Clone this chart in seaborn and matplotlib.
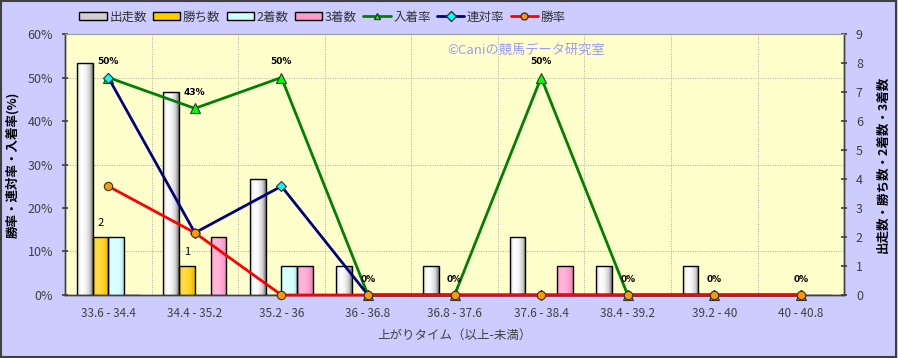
import numpy as np
import pandas as pd
import matplotlib
matplotlib.use("Agg")
import matplotlib.pyplot as plt
import seaborn as sns
from matplotlib.colors import to_rgb
from matplotlib.patches import Patch, Rectangle
from matplotlib.lines import Line2D

# ---------------- data ----------------
categories = ["33.6 - 34.4", "34.4 - 35.2", "35.2 - 36", "36 - 36.8", "36.8 - 37.6",
              "37.6 - 38.4", "38.4 - 39.2", "39.2 - 40", "40 - 40.8"]
starts = [8, 7, 4, 1, 1, 2, 1, 1, 0]
wins = [2, 1, 0, 0, 0, 0, 0, 0, 0]
seconds = [2, 0, 1, 0, 0, 0, 0, 0, 0]
thirds = [0, 2, 1, 0, 0, 1, 0, 0, 0]
place_rate = [50, 42.9, 50, 0, 0, 50, 0, 0, 0]
quinella_rate = [50, 14.3, 25, 0, 0, 0, 0, 0, 0]
win_rate = [25, 14.3, 0, 0, 0, 0, 0, 0, 0]

bar_names = ["出走数", "勝ち数", "2着数", "3着数"]
bar_colors = ["#D0D0D0", "#FFCC00", "#CCFFFF", "#FF99CC"]
line_names = ["入着率", "連対率", "勝率"]

sns.set_theme(style="white")
plt.rcParams["font.family"] = ["Noto Sans CJK JP", "DejaVu Sans"]

fig = plt.figure(figsize=(8.98, 3.58), dpi=100, facecolor="#CCCCFF")
fig.add_artist(Rectangle((0.001, 0.002), 0.997, 0.995, transform=fig.transFigure,
                         fill=False, edgecolor="#404040", linewidth=1.5))

ax = fig.add_axes([0.0724, 0.176, 0.8676, 0.729])
ax.set_facecolor("#FFFFCC")
ax2 = ax.twinx()

# ---------------- bars (right scale) ----------------
bdf = pd.DataFrame({
    "cat": np.tile(categories, 4),
    "series": np.repeat(bar_names, len(categories)),
    "value": starts + wins + seconds + thirds,
})
sns.barplot(data=bdf, x="cat", y="value", hue="series", hue_order=bar_names,
            palette=bar_colors, width=0.73, dodge=True, ax=ax,
            edgecolor="black", linewidth=1.0, legend=False, saturation=1, zorder=3)

def shade_patch(axis, patch, color, strength):
    x, y = patch.get_x(), patch.get_y()
    w, h = patch.get_width(), patch.get_height()
    if h <= 0:
        return
    rgb = np.array(to_rgb(color))
    t = np.linspace(0, 1, 64)
    prof = np.interp(t, [0, 0.12, 0.3, 0.55, 0.8, 1],
                     [-0.25, 0.6, 1.0, 0.75, 0.0, -0.45]) * strength
    img = np.empty((1, 64, 3))
    for i, p in enumerate(prof):
        if p >= 0:
            img[0, i] = rgb + (1 - rgb) * p
        else:
            img[0, i] = rgb * (1 + p)
    axis.imshow(img, extent=[x, x + w, y, y + h], aspect="auto", zorder=3.5,
                interpolation="bilinear")
    patch.set_facecolor("none")
    patch.set_zorder(4)

strengths = [1.0, 0.3, 0.3, 0.3]
n = len(categories)
for k, cont in enumerate(ax.containers):
    for p in cont.patches:
        shade_patch(ax, p, bar_colors[k], strengths[k])

# win count labels
for p, v in zip(ax.containers[1].patches, wins):
    if v > 0:
        ax.text(p.get_x() + p.get_width() / 2, v + 0.3, str(v), ha="center", va="bottom",
                fontsize=8, color="black", zorder=6)

ax.set_xlim(-0.5, n - 0.5)
ax.set_ylim(0, 9)
ax.set_yticks(range(10))
ax.set_yticks([1.5, 3, 4.5, 6, 7.5], minor=True)
ax.set_xticks(np.arange(0.5, n - 0.5, 1), minor=True)
ax.grid(which="minor", color="#A8A8A8", linestyle=(0, (1, 1.5)), linewidth=0.7, zorder=0)
ax.set_axisbelow(True)
ax.yaxis.tick_right()
ax.yaxis.set_label_position("right")
ax.tick_params(axis="y", which="major", direction="inout", length=5, color="#404040",
               labelsize=9, labelcolor="#404040", pad=6)
ax.tick_params(which="minor", length=0)
ax.tick_params(axis="x", which="major", length=0, labelsize=8.5, labelcolor="#404040", pad=9)
ax.set_xlabel("上がりタイム（以上-未満）", fontsize=9, color="#404040", labelpad=6)
ax.set_ylabel("出走数・勝ち数・2着数・3着数", fontsize=9, fontweight="bold",
              color="black", labelpad=10)

# ---------------- lines (left scale) ----------------
ldf = pd.DataFrame({"cat": categories, "入着率": place_rate,
                    "連対率": quinella_rate, "勝率": win_rate})
styles = {
    "入着率": dict(color="#008000", marker="^", markerfacecolor="#00FF00"),
    "連対率": dict(color="#000080", marker="D", markerfacecolor="#00FFFF"),
    "勝率": dict(color="#FF0000", marker="o", markerfacecolor="#FF9900"),
}
msize = {"入着率": 7, "連対率": 5, "勝率": 6}
for name in line_names:
    st = styles[name]
    sns.pointplot(data=ldf, x="cat", y=name, ax=ax2, color=st["color"],
                  markers=st["marker"], linestyles="-", errorbar=None,
                  markerfacecolor=st["markerfacecolor"], markeredgecolor="#333333",
                  markeredgewidth=0.8, markersize=msize[name], linewidth=2,
                  clip_on=False, zorder=5)
ax2.set_ylim(0, 60)
ax2.set_xlim(-0.5, n - 0.5)
ax2.set_yticks(range(0, 61, 10))
ax2.set_yticklabels([f"{v}%" for v in range(0, 61, 10)])
ax2.yaxis.tick_left()
ax2.yaxis.set_label_position("left")
ax2.tick_params(axis="y", direction="inout", length=5, color="#404040",
                labelsize=9, labelcolor="#404040", pad=6)
ax2.set_ylabel("勝率・連対率・入着率(%)", fontsize=9, fontweight="bold",
               color="black", labelpad=6)
ax2.set_xlabel("")

for i, v in enumerate(place_rate):
    ax2.annotate(f"{round(v)}%", (i, v), xytext=(0, 8), textcoords="offset points",
                 ha="center", va="bottom", fontsize=6.5, fontweight="bold",
                 family="DejaVu Sans", color="black", zorder=7)

for a in (ax, ax2):
    for s in ["left", "bottom", "right"]:
        a.spines[s].set_color("#404040")
        a.spines[s].set_linewidth(1.0)
    a.spines["top"].set_color("#A0A0A0")
    a.spines["top"].set_linewidth(0.8)

# watermark
ax2.text(0.592, 0.937, "©Caniの競馬データ研究室", transform=ax2.transAxes,
         fontsize=9.5, color="#9999FF", ha="center", va="center", zorder=1)

# ---------------- legend ----------------
handles = [Patch(facecolor=c, edgecolor="black", linewidth=1) for c in bar_colors]
for name in line_names:
    st = styles[name]
    handles.append(Line2D([0], [0], color=st["color"], linewidth=2, marker=st["marker"],
                          markerfacecolor=st["markerfacecolor"], markeredgecolor="#333333",
                          markersize=5))
fig.legend(handles, bar_names + line_names, loc="center", bbox_to_anchor=(0.359, 0.952),
           ncol=7, frameon=False, fontsize=9, handlelength=2.2, handleheight=0.6,
           handletextpad=0.2, columnspacing=0.5, labelcolor="#333333")

fig.savefig("out.png", dpi=100, facecolor=fig.get_facecolor())
